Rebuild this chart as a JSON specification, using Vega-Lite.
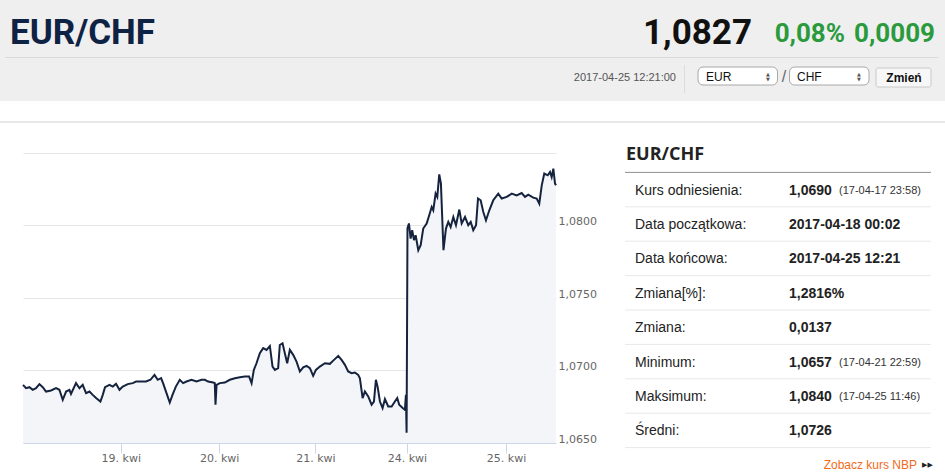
{
  "$schema": "https://vega.github.io/schema/vega-lite/v6.json",
  "padding": 0,
  "background": "white",
  "bounds": "flush",
  "spacing": 20,
  "config": {
    "view": {"stroke": null},
    "text": {"font": "Liberation Sans"},
    "scale": {"pointPadding": 0}
  },
  "datasets": {
    "eurchf": [
      {"t":0.006,"v":1.06901},{"t":0.037,"v":1.06878},{"t":0.071,"v":1.06885},{"t":0.105,"v":1.06867},{"t":0.138,"v":1.06878},
      {"t":0.173,"v":1.06906},{"t":0.207,"v":1.06885},{"t":0.240,"v":1.06855},{"t":0.291,"v":1.06862},{"t":0.342,"v":1.06878},
      {"t":0.376,"v":1.06867},{"t":0.410,"v":1.06798},{"t":0.444,"v":1.06855},{"t":0.478,"v":1.06867},{"t":0.494,"v":1.06839},
      {"t":0.545,"v":1.06913},{"t":0.580,"v":1.06878},{"t":0.613,"v":1.06901},{"t":0.647,"v":1.06844},{"t":0.682,"v":1.06855},
      {"t":0.715,"v":1.06832},{"t":0.749,"v":1.06810},{"t":0.793,"v":1.06786},{"t":0.817,"v":1.06832},{"t":0.840,"v":1.06885},
      {"t":0.885,"v":1.06901},{"t":0.919,"v":1.06889},{"t":0.952,"v":1.06908},{"t":0.987,"v":1.06867},{"t":1.020,"v":1.06889},
      {"t":1.071,"v":1.06906},{"t":1.122,"v":1.06913},{"t":1.156,"v":1.06924},{"t":1.207,"v":1.06924},{"t":1.257,"v":1.06924},
      {"t":1.302,"v":1.06936},{"t":1.343,"v":1.06970},{"t":1.376,"v":1.06936},{"t":1.410,"v":1.06947},{"t":1.430,"v":1.06913},
      {"t":1.465,"v":1.06844},{"t":1.498,"v":1.06779},{"t":1.526,"v":1.06832},{"t":1.560,"v":1.06889},{"t":1.600,"v":1.06936},
      {"t":1.634,"v":1.06913},{"t":1.668,"v":1.06924},{"t":1.719,"v":1.06936},{"t":1.770,"v":1.06924},{"t":1.821,"v":1.06936},
      {"t":1.855,"v":1.06936},{"t":1.888,"v":1.06924},{"t":1.939,"v":1.06917},{"t":1.956,"v":1.06913},{"t":1.963,"v":1.06764},
      {"t":1.974,"v":1.06901},{"t":2.007,"v":1.06913},{"t":2.058,"v":1.06917},{"t":2.109,"v":1.06936},{"t":2.160,"v":1.06947},
      {"t":2.211,"v":1.06954},{"t":2.261,"v":1.06958},{"t":2.305,"v":1.06958},{"t":2.330,"v":1.06913},{"t":2.353,"v":1.07004},
      {"t":2.380,"v":1.07050},{"t":2.414,"v":1.07119},{"t":2.448,"v":1.07154},{"t":2.482,"v":1.07142},{"t":2.516,"v":1.07169},
      {"t":2.543,"v":1.07027},{"t":2.567,"v":1.07004},{"t":2.600,"v":1.07016},{"t":2.617,"v":1.07176},{"t":2.645,"v":1.07188},
      {"t":2.668,"v":1.07119},{"t":2.692,"v":1.07050},{"t":2.719,"v":1.07142},{"t":2.753,"v":1.07108},{"t":2.787,"v":1.07061},
      {"t":2.821,"v":1.06993},{"t":2.855,"v":1.07022},{"t":2.889,"v":1.07032},{"t":2.923,"v":1.07016},{"t":2.956,"v":1.06963},
      {"t":2.984,"v":1.07004},{"t":3.024,"v":1.07027},{"t":3.075,"v":1.07050},{"t":3.126,"v":1.07046},{"t":3.160,"v":1.07068},
      {"t":3.211,"v":1.07101},{"t":3.245,"v":1.07073},{"t":3.279,"v":1.07039},{"t":3.312,"v":1.06993},{"t":3.347,"v":1.06982},
      {"t":3.380,"v":1.06986},{"t":3.414,"v":1.06970},{"t":3.431,"v":1.06947},{"t":3.459,"v":1.06810},{"t":3.482,"v":1.06855},
      {"t":3.516,"v":1.06821},{"t":3.550,"v":1.06764},{"t":3.574,"v":1.06786},{"t":3.594,"v":1.06936},{"t":3.611,"v":1.06889},
      {"t":3.635,"v":1.06786},{"t":3.662,"v":1.06741},{"t":3.686,"v":1.06803},{"t":3.719,"v":1.06752},{"t":3.754,"v":1.06752},
      {"t":3.787,"v":1.06786},{"t":3.811,"v":1.06810},{"t":3.831,"v":1.06764},{"t":3.866,"v":1.06741},{"t":3.889,"v":1.06729},
      {"t":3.899,"v":1.06832},{"t":3.906,"v":1.06570},{"t":3.915,"v":1.07981},{"t":3.930,"v":1.08014},{"t":3.947,"v":1.07910},
      {"t":3.963,"v":1.07968},{"t":3.981,"v":1.07899},{"t":3.998,"v":1.07933},{"t":4.025,"v":1.07830},{"t":4.049,"v":1.07864},
      {"t":4.075,"v":1.07979},{"t":4.110,"v":1.08014},{"t":4.136,"v":1.08071},{"t":4.161,"v":1.08128},{"t":4.177,"v":1.08105},
      {"t":4.201,"v":1.08220},{"t":4.218,"v":1.08197},{"t":4.238,"v":1.08353},{"t":4.255,"v":1.08289},{"t":4.281,"v":1.07830},
      {"t":4.306,"v":1.07979},{"t":4.330,"v":1.08025},{"t":4.354,"v":1.07990},{"t":4.381,"v":1.08059},{"t":4.408,"v":1.08002},
      {"t":4.442,"v":1.08110},{"t":4.466,"v":1.08014},{"t":4.500,"v":1.08059},{"t":4.533,"v":1.08002},{"t":4.558,"v":1.08025},
      {"t":4.584,"v":1.07968},{"t":4.612,"v":1.08002},{"t":4.632,"v":1.08186},{"t":4.659,"v":1.08174},{"t":4.686,"v":1.08093},
      {"t":4.713,"v":1.08036},{"t":4.747,"v":1.08105},{"t":4.787,"v":1.08174},{"t":4.838,"v":1.08220},{"t":4.873,"v":1.08186},
      {"t":4.924,"v":1.08197},{"t":4.975,"v":1.08220},{"t":5.025,"v":1.08208},{"t":5.076,"v":1.08224},{"t":5.110,"v":1.08197},
      {"t":5.143,"v":1.08213},{"t":5.194,"v":1.08192},{"t":5.229,"v":1.08186},{"t":5.255,"v":1.08151},{"t":5.280,"v":1.08277},
      {"t":5.306,"v":1.08358},{"t":5.341,"v":1.08346},{"t":5.364,"v":1.08369},{"t":5.381,"v":1.08334},{"t":5.398,"v":1.08392},
      {"t":5.415,"v":1.08289},{"t":5.425,"v":1.08277}
    ],
    "stats": [
      {"r": "h", "label": "EUR/CHF"},
      {"r": "1", "label": "Kurs odniesienia:", "value": "1,0690", "note": "(17-04-17 23:58)"},
      {"r": "2", "label": "Data początkowa:", "value": "2017-04-18 00:02"},
      {"r": "3", "label": "Data końcowa:", "value": "2017-04-25 12:21"},
      {"r": "4", "label": "Zmiana[%]:", "value": "1,2816%"},
      {"r": "5", "label": "Zmiana:", "value": "0,0137"},
      {"r": "6", "label": "Minimum:", "value": "1,0657", "note": "(17-04-21 22:59)"},
      {"r": "7", "label": "Maksimum:", "value": "1,0840", "note": "(17-04-25 11:46)"},
      {"r": "8", "label": "Średni:", "value": "1,0726"},
      {"r": "f", "label": "Zobacz kurs NBP"}
    ]
  },
  "vconcat": [
    {
      "width": 945,
      "height": 101,
      "view": {"fill": "#efefef", "stroke": null},
      "resolve": {"scale": {"x": "independent", "y": "independent"}},
      "layer": [
        {
          "data": {"values": [{"k": "pair", "t": "EUR/CHF"}]},
          "mark": {"type": "text", "align": "left", "baseline": "alphabetic", "font": "Roboto", "fontWeight": "bold", "fontSize": 35, "color": "#0e2244"},
          "encoding": {
            "x": {"field": "k", "type": "nominal", "scale": {"type": "point", "domain": ["pair"], "range": [10, 10]}, "axis": null},
            "y": {"field": "k", "type": "nominal", "scale": {"type": "point", "domain": ["pair"], "range": [44, 44]}, "axis": null},
            "text": {"field": "t"}
          }
        },
        {
          "data": {"values": [{"k": "rate", "t": "1,0827"}]},
          "mark": {"type": "text", "align": "right", "baseline": "alphabetic", "font": "Roboto", "fontWeight": "bold", "fontSize": 35, "color": "#111111"},
          "encoding": {
            "x": {"field": "k", "type": "nominal", "scale": {"type": "point", "domain": ["rate"], "range": [752, 752]}, "axis": null},
            "y": {"field": "k", "type": "nominal", "scale": {"type": "point", "domain": ["rate"], "range": [44, 44]}, "axis": null},
            "text": {"field": "t"}
          }
        },
        {
          "data": {"values": [{"k": "pct", "t": "0,08%"}, {"k": "abs", "t": "0,0009"}]},
          "mark": {"type": "text", "align": "right", "baseline": "alphabetic", "font": "Roboto", "fontWeight": "bold", "fontSize": 26, "color": "#2a9a3c"},
          "encoding": {
            "x": {"field": "k", "type": "nominal", "scale": {"type": "point", "domain": ["pct", "abs"], "range": [845, 935], "padding": 0}, "axis": null},
            "y": {"field": "k", "type": "nominal", "scale": {"type": "point", "domain": ["pct", "abs"], "range": [42, 42], "padding": 0}, "axis": null},
            "text": {"field": "t"}
          }
        },
        {
          "data": {"values": [{"k": "sep"}]},
          "mark": {"type": "rect", "fill": "#d9d9d9"},
          "encoding": {
            "x": {"field": "k", "type": "nominal", "scale": {"type": "band", "domain": ["sep"], "range": [5, 938], "padding": 0}, "axis": null},
            "y": {"field": "k", "type": "nominal", "scale": {"type": "band", "domain": ["sep"], "range": [57, 58], "padding": 0}, "axis": null}
          }
        },
        {
          "data": {"values": [{"k": "stamp", "t": "2017-04-25 12:21:00"}]},
          "mark": {"type": "text", "align": "right", "baseline": "middle", "fontSize": 11, "color": "#555555"},
          "encoding": {
            "x": {"field": "k", "type": "nominal", "scale": {"type": "point", "domain": ["stamp"], "range": [676, 676]}, "axis": null},
            "y": {"field": "k", "type": "nominal", "scale": {"type": "point", "domain": ["stamp"], "range": [78, 78]}, "axis": null},
            "text": {"field": "t"}
          }
        },
        {
          "data": {"values": [{"k": "vsep"}]},
          "mark": {"type": "rect", "fill": "#dcdcdc"},
          "encoding": {
            "x": {"field": "k", "type": "nominal", "scale": {"type": "band", "domain": ["vsep"], "range": [684, 685], "padding": 0}, "axis": null},
            "y": {"field": "k", "type": "nominal", "scale": {"type": "band", "domain": ["vsep"], "range": [65, 93], "padding": 0}, "axis": null}
          }
        },
        {
          "data": {"values": [{"k": "EUR", "g": "box"}, {"k": "CHF", "g": "box"}]},
          "mark": {"type": "rect", "fill": "#ffffff", "stroke": "#a8a8a8", "strokeWidth": 1, "cornerRadius": 5},
          "encoding": {
            "x": {"field": "k", "type": "nominal", "scale": {"type": "band", "domain": ["EUR", "CHF"], "range": [698, 869], "paddingInner": 0.131, "paddingOuter": 0}, "axis": null},
            "y": {"field": "g", "type": "nominal", "scale": {"type": "band", "domain": ["box"], "range": [67, 85], "padding": 0}, "axis": null}
          }
        },
        {
          "data": {"values": [{"k": "btn"}]},
          "mark": {"type": "rect", "fill": "#f7f7f7", "stroke": "#c9c9c9", "strokeWidth": 1, "cornerRadius": 2},
          "encoding": {
            "x": {"field": "k", "type": "nominal", "scale": {"type": "band", "domain": ["btn"], "range": [876, 931], "padding": 0}, "axis": null},
            "y": {"field": "k", "type": "nominal", "scale": {"type": "band", "domain": ["btn"], "range": [68, 87], "padding": 0}, "axis": null}
          }
        },
        {
          "data": {"values": [{"k": "EUR", "g": "box"}, {"k": "CHF", "g": "box"}]},
          "mark": {"type": "text", "align": "left", "baseline": "middle", "fontSize": 12, "color": "#111111"},
          "encoding": {
            "x": {"field": "k", "type": "nominal", "scale": {"type": "point", "domain": ["EUR", "CHF"], "range": [706, 797], "padding": 0}, "axis": null},
            "y": {"field": "g", "type": "nominal", "scale": {"type": "point", "domain": ["box"], "range": [76.5, 76.5], "padding": 0}, "axis": null},
            "text": {"field": "k"}
          }
        },
        {
          "data": {"values": [{"k": "EUR", "d": "up", "t": "▲"}, {"k": "EUR", "d": "down", "t": "▼"}, {"k": "CHF", "d": "up", "t": "▲"}, {"k": "CHF", "d": "down", "t": "▼"}]},
          "mark": {"type": "text", "align": "center", "baseline": "middle", "font": "DejaVu Sans", "fontSize": 5, "color": "#555555"},
          "encoding": {
            "x": {"field": "k", "type": "nominal", "scale": {"type": "point", "domain": ["EUR", "CHF"], "range": [768, 859], "padding": 0}, "axis": null},
            "y": {"field": "d", "type": "nominal", "scale": {"type": "point", "domain": ["up", "down"], "range": [73.5, 79], "padding": 0}, "axis": null},
            "text": {"field": "t"}
          }
        },
        {
          "data": {"values": [{"k": "slash", "t": "/"}]},
          "mark": {"type": "text", "align": "center", "baseline": "middle", "fontSize": 16, "color": "#666666"},
          "encoding": {
            "x": {"field": "k", "type": "nominal", "scale": {"type": "point", "domain": ["slash"], "range": [784, 784]}, "axis": null},
            "y": {"field": "k", "type": "nominal", "scale": {"type": "point", "domain": ["slash"], "range": [77, 77]}, "axis": null},
            "text": {"field": "t"}
          }
        },
        {
          "data": {"values": [{"k": "btn", "t": "Zmień"}]},
          "mark": {"type": "text", "align": "center", "baseline": "middle", "fontSize": 12, "fontWeight": "bold", "color": "#111111"},
          "encoding": {
            "x": {"field": "k", "type": "nominal", "scale": {"type": "point", "domain": ["btn"], "range": [904, 904]}, "axis": null},
            "y": {"field": "k", "type": "nominal", "scale": {"type": "point", "domain": ["btn"], "range": [77.5, 77.5]}, "axis": null},
            "text": {"field": "t"}
          }
        }
      ]
    },
    {
      "spacing": 15,
      "bounds": "flush",
      "vconcat": [
        {
          "width": 945,
          "height": 2,
          "view": {"fill": "#e8e8e8", "stroke": null},
          "data": {"values": []},
          "mark": "rect",
          "encoding": {}
        },
        {
          "spacing": 0,
          "bounds": "flush",
          "hconcat": [
            {
              "width": 23,
              "height": 10,
              "data": {"values": []},
              "mark": "rect",
              "encoding": {}
            },
            {
              "width": 533,
              "height": 305,
              "data": {"name": "eurchf"},
              "encoding": {
                "x": {
                  "field": "t",
                  "type": "quantitative",
                  "scale": {"domain": [0.006, 5.425], "nice": false, "zero": false},
                  "axis": {
                    "orient": "bottom",
                    "title": null,
                    "values": [1, 2, 2.979, 3.909, 4.917],
                    "labelExpr": "datum.value < 1.5 ? '19. kwi' : datum.value < 2.5 ? '20. kwi' : datum.value < 3.5 ? '21. kwi' : datum.value < 4.5 ? '24. kwi' : '25. kwi'",
                    "grid": false,
                    "domainColor": "#ccd6eb",
                    "tickColor": "#ccd6eb",
                    "tickSize": 10,
                    "labelColor": "#666666",
                    "labelFont": "DejaVu Sans",
                    "labelFontSize": 11,
                    "labelPadding": -1,
                    "labelFlush": false,
                    "labelOverlap": false,
                    "labelAngle": 0
                  }
                },
                "y": {
                  "field": "v",
                  "type": "quantitative",
                  "scale": {"domain": [1.065, 1.085], "range": [305, 15], "nice": false, "zero": false},
                  "axis": {
                    "orient": "right",
                    "title": null,
                    "values": [1.065, 1.07, 1.075, 1.08, 1.085],
                    "labelExpr": "datum.value > 1.084 ? '' : replace(format(datum.value, '.4f'), '.', ',')",
                    "grid": true,
                    "gridColor": "#e6e6e6",
                    "domain": false,
                    "ticks": false,
                    "labelPadding": 2,
                    "labelOffset": -4,
                    "labelColor": "#666666",
                    "labelFont": "DejaVu Sans",
                    "labelFontSize": 11,
                    "labelFlush": false,
                    "labelOverlap": false
                  }
                }
              },
              "layer": [
                {
                  "mark": {"type": "area", "color": "#f3f5f8"},
                  "encoding": {"y2": {"datum": 1.065}}
                },
                {
                  "mark": {"type": "line", "color": "#15233f", "strokeWidth": 2, "strokeJoin": "miter"}
                }
              ]
            },
            {
              "width": 389,
              "height": 344,
              "data": {"name": "stats"},
              "resolve": {"scale": {"x": "independent"}},
              "encoding": {
                "y": {"field": "r", "type": "nominal", "scale": {"type": "band", "domain": ["h", "1", "2", "3", "4", "5", "6", "7", "8", "f"], "padding": 0}, "axis": null}
              },
              "layer": [
                {
                  "transform": [{"filter": "datum.r != 'f'"}],
                  "mark": {"type": "rule", "strokeWidth": 1},
                  "encoding": {
                    "y": {"field": "r", "type": "nominal", "bandPosition": 1},
                    "x": {"datum": "l", "type": "nominal", "scale": {"type": "point", "domain": ["l", "r"], "range": [69, 375], "padding": 0}, "axis": null},
                    "x2": {"datum": "r"},
                    "color": {"condition": {"test": "datum.r == 'h'", "value": "#8f8f8f"}, "value": "#e8e8e8"}
                  }
                },
                {
                  "transform": [{"filter": "datum.r == 'h'"}],
                  "mark": {"type": "text", "align": "left", "baseline": "middle", "font": "Open Sans", "fontWeight": "bold", "fontSize": 18, "color": "#222222"},
                  "encoding": {
                    "x": {"field": "r", "type": "nominal", "scale": {"type": "point", "domain": ["h"], "range": [70, 70]}, "axis": null},
                    "text": {"field": "label"}
                  }
                },
                {
                  "transform": [{"filter": "datum.r != 'h' && datum.r != 'f'"}],
                  "mark": {"type": "text", "align": "left", "baseline": "middle", "fontSize": 14, "color": "#222222", "dy": 1},
                  "encoding": {
                    "x": {"datum": "label", "type": "nominal", "scale": {"type": "point", "domain": ["label"], "range": [79, 79]}, "axis": null},
                    "text": {"field": "label"}
                  }
                },
                {
                  "transform": [{"filter": "isValid(datum.value)"}],
                  "mark": {"type": "text", "align": "left", "baseline": "middle", "fontSize": 14, "fontWeight": "bold", "color": "#222222", "dy": 1},
                  "encoding": {
                    "x": {"datum": "value", "type": "nominal", "scale": {"type": "point", "domain": ["value"], "range": [233, 233]}, "axis": null},
                    "text": {"field": "value"}
                  }
                },
                {
                  "transform": [{"filter": "isValid(datum.note)"}],
                  "mark": {"type": "text", "align": "left", "baseline": "middle", "fontSize": 11, "color": "#333333", "dy": 1},
                  "encoding": {
                    "x": {"datum": "note", "type": "nominal", "scale": {"type": "point", "domain": ["note"], "range": [283, 283]}, "axis": null},
                    "text": {"field": "note"}
                  }
                },
                {
                  "transform": [{"filter": "datum.r == 'f'"}],
                  "mark": {"type": "text", "align": "right", "baseline": "middle", "fontSize": 12, "color": "#f26a1b"},
                  "encoding": {
                    "x": {"field": "r", "type": "nominal", "scale": {"type": "point", "domain": ["f"], "range": [361, 361]}, "axis": null},
                    "text": {"field": "label"}
                  }
                },
                {
                  "transform": [{"filter": "datum.r == 'f'"}],
                  "mark": {"type": "text", "align": "left", "baseline": "middle", "font": "DejaVu Sans", "fontSize": 7, "color": "#222222", "text": "▶▶"},
                  "encoding": {
                    "x": {"field": "r", "type": "nominal", "scale": {"type": "point", "domain": ["f"], "range": [366, 366]}, "axis": null}
                  }
                }
              ]
            }
          ]
        }
      ]
    }
  ]
}
